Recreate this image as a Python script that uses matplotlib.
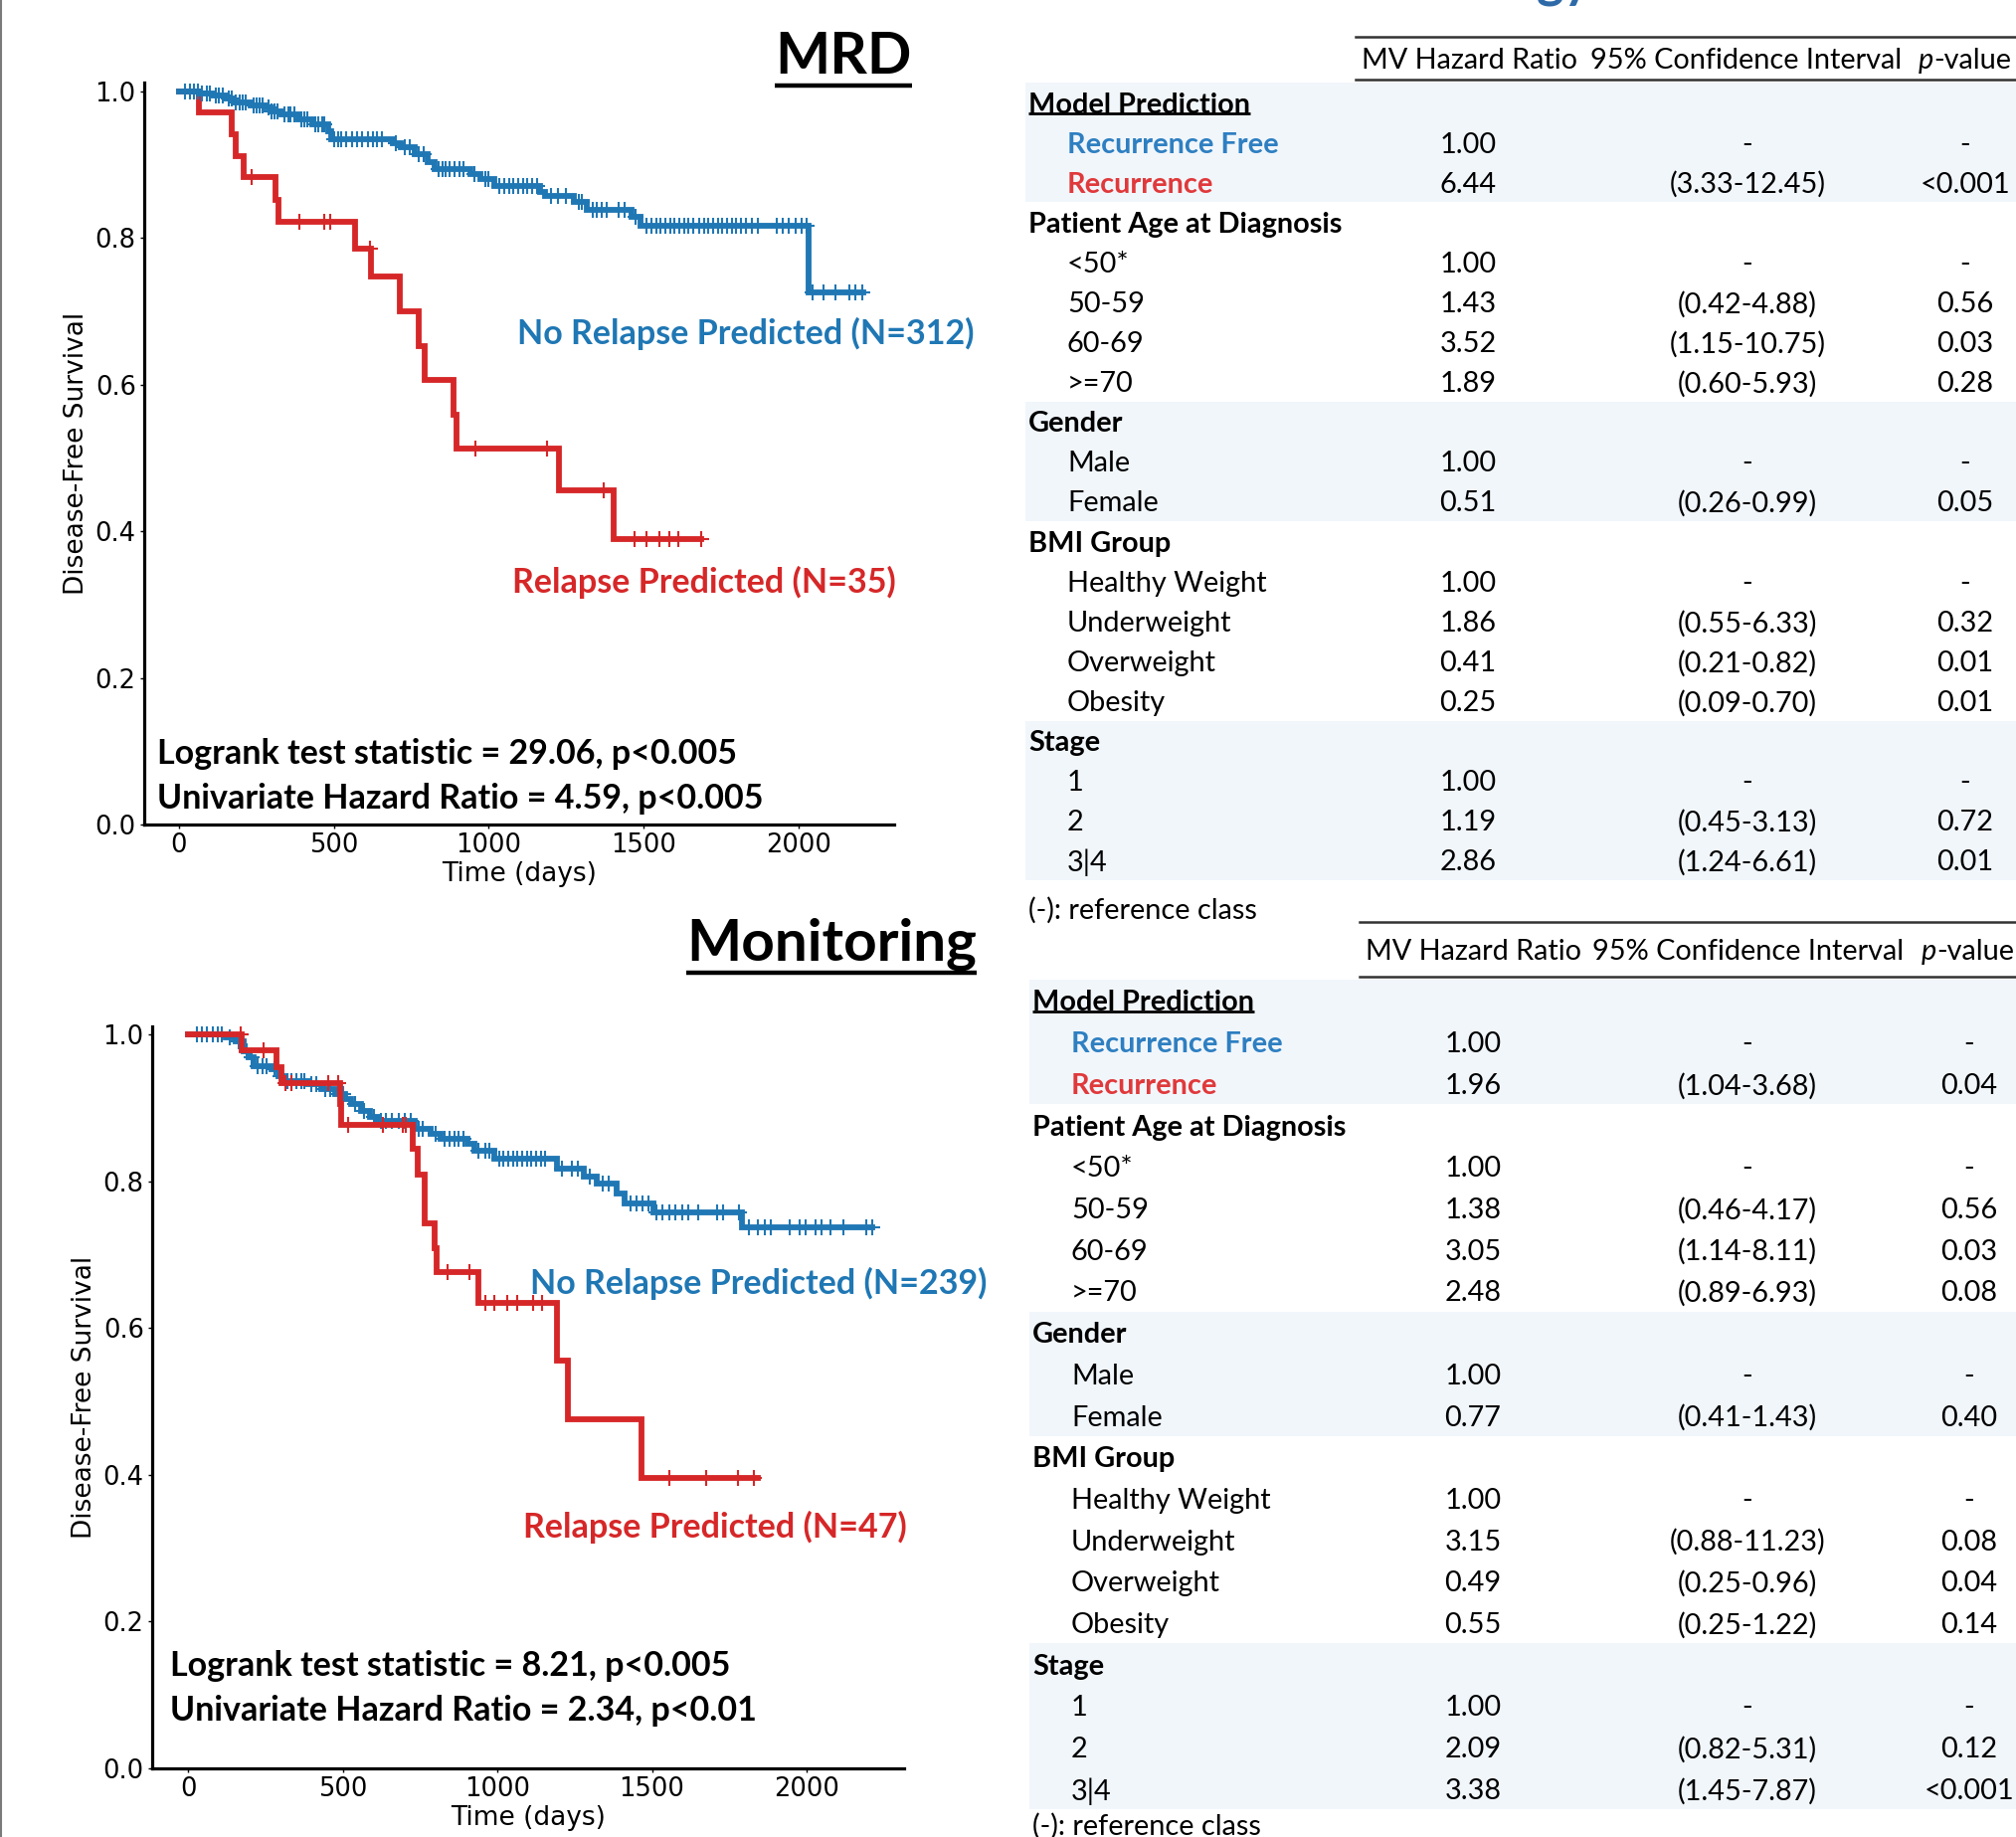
import numpy as np
import matplotlib
matplotlib.use("Agg")
import matplotlib.pyplot as plt

W, H = 2027, 1847

# MRD cohort: Kaplan-Meier steps (day, survival after the event) and censored days
mrd_free_t = [0, 65, 110, 150, 177, 230, 279, 295, 330, 385, 430, 482, 491, 690, 716,
              760, 803, 825, 940, 973, 1018, 1166, 1182, 1275, 1316, 1461, 1490, 2033, 2208]
mrd_free_s = [1.0, 0.997, 0.994, 0.990, 0.985, 0.981, 0.978, 0.973, 0.968, 0.962, 0.955,
              0.946, 0.935, 0.929, 0.924, 0.914, 0.904, 0.894, 0.887, 0.881, 0.871, 0.863,
              0.858, 0.849, 0.839, 0.829, 0.817, 0.726, 0.726]
mrd_free_cens = [20, 35, 48, 60, 75, 90, 100, 118, 130, 142, 160, 170, 185, 196, 205, 215,
                 240, 252, 262, 270, 288, 300, 310, 318, 340, 352, 360, 372, 395, 405, 415,
                 440, 450, 462, 470, 500, 515, 525, 540, 560, 575, 590, 610, 625, 640, 655,
                 700, 730, 745, 775, 790, 840, 850, 862, 875, 890, 905, 918, 955, 990, 1000,
                 1035, 1050, 1065, 1080, 1095, 1110, 1125, 1140, 1155, 1200, 1225, 1250, 1290,
                 1300, 1335, 1350, 1365, 1380, 1420, 1440, 1475, 1510, 1525, 1540, 1555, 1570,
                 1585, 1600, 1615, 1630, 1645, 1660, 1680, 1695, 1710, 1725, 1740, 1755, 1770,
                 1785, 1800, 1815, 1830, 1850, 1870, 1930, 1950, 1970, 1990, 2010, 2025, 2045,
                 2080, 2120, 2165, 2185, 2205]
mrd_rel_t = [0, 66, 170, 183, 209, 312, 321, 568, 620, 713, 774, 793, 886, 896, 1227, 1403, 1686]
mrd_rel_s = [1.0, 0.971, 0.942, 0.912, 0.883, 0.852, 0.822, 0.786, 0.748, 0.700, 0.652,
             0.607, 0.559, 0.513, 0.456, 0.390, 0.390]
mrd_rel_cens = [235, 388, 469, 488, 616, 957, 1188, 1371, 1471, 1509, 1551, 1583, 1612, 1686]

# Monitoring cohort
mon_free_t = [0, 122, 154, 180, 196, 212, 270, 292, 308, 389, 431, 475, 508, 527, 559, 588,
              614, 733, 784, 817, 903, 926, 990, 1193, 1280, 1321, 1386, 1411, 1505, 1791, 2212]
mon_free_s = [1.0, 0.996, 0.991, 0.977, 0.969, 0.957, 0.953, 0.943, 0.936, 0.932, 0.925,
              0.919, 0.912, 0.905, 0.896, 0.887, 0.882, 0.871, 0.864, 0.858, 0.851, 0.842,
              0.831, 0.817, 0.806, 0.797, 0.783, 0.770, 0.757, 0.737, 0.737]
mon_free_cens = [30, 45, 60, 80, 95, 110, 135, 165, 188, 205, 225, 240, 255, 280, 300, 320,
                 335, 350, 365, 375, 400, 415, 445, 460, 490, 500, 540, 570, 600, 625, 640,
                 660, 680, 700, 720, 745, 760, 800, 830, 845, 860, 875, 890, 940, 960, 975,
                 1005, 1020, 1035, 1050, 1065, 1080, 1095, 1110, 1125, 1140, 1155, 1210, 1240,
                 1260, 1300, 1340, 1360, 1430, 1450, 1470, 1490, 1514, 1534, 1556, 1576, 1598,
                 1617, 1649, 1710, 1730, 1781, 1813, 1842, 1865, 1884, 1945, 1977, 1997, 2029,
                 2048, 2077, 2119, 2193, 2212]
mon_rel_t = [0, 174, 286, 303, 492, 496, 726, 742, 766, 797, 803, 939, 1193, 1228, 1466, 1842]
mon_rel_s = [1.0, 0.978, 0.955, 0.934, 0.905, 0.877, 0.844, 0.809, 0.743, 0.709, 0.676,
             0.634, 0.556, 0.476, 0.396, 0.396]
mon_rel_cens = [170, 244, 315, 334, 453, 485, 518, 630, 694, 704, 838, 909, 961, 990, 1032,
                1064, 1115, 1145, 1556, 1675, 1778, 1829]

# Multivariate Cox tables
row_labels = ["Model Prediction", "Recurrence Free", "Recurrence", "Patient Age at Diagnosis",
              "<50*", "50-59", "60-69", ">=70", "Gender", "Male", "Female", "BMI Group",
              "Healthy Weight", "Underweight", "Overweight", "Obesity", "Stage", "1", "2", "3|4"]
group_rows = [0, 3, 8, 11, 16]
shaded_rows = [(0, 2), (8, 10), (16, 19)]

mrd_hr = ["", "1.00", "6.44", "", "1.00", "1.43", "3.52", "1.89", "", "1.00", "0.51", "",
          "1.00", "1.86", "0.41", "0.25", "", "1.00", "1.19", "2.86"]
mrd_ci = ["", "-", "(3.33-12.45)", "", "-", "(0.42-4.88)", "(1.15-10.75)", "(0.60-5.93)", "",
          "-", "(0.26-0.99)", "", "-", "(0.55-6.33)", "(0.21-0.82)", "(0.09-0.70)", "", "-",
          "(0.45-3.13)", "(1.24-6.61)"]
mrd_p = ["", "-", "<0.001", "", "-", "0.56", "0.03", "0.28", "", "-", "0.05", "", "-", "0.32",
         "0.01", "0.01", "", "-", "0.72", "0.01"]

mon_hr = ["", "1.00", "1.96", "", "1.00", "1.38", "3.05", "2.48", "", "1.00", "0.77", "",
          "1.00", "3.15", "0.49", "0.55", "", "1.00", "2.09", "3.38"]
mon_ci = ["", "-", "(1.04-3.68)", "", "-", "(0.46-4.17)", "(1.14-8.11)", "(0.89-6.93)", "",
          "-", "(0.41-1.43)", "", "-", "(0.88-11.23)", "(0.25-0.96)", "(0.25-1.22)", "", "-",
          "(0.82-5.31)", "(1.45-7.87)"]
mon_p = ["", "-", "0.04", "", "-", "0.56", "0.03", "0.08", "", "-", "0.40", "", "-", "0.08",
         "0.04", "0.14", "", "-", "0.12", "<0.001"]

BLUE = "#1f77b4"
RED = "#d62728"
TBL_BLUE = "#2e7fc1"
TBL_RED = "#e0393b"
BAND = "#f1f6fb"
TXT = "Lato"

fig = plt.figure(figsize=(W / 100, H / 100), dpi=100)

# full-figure overlay in pixel units for titles, tables and frame
ov = fig.add_axes([0, 0, 1, 1], zorder=0)
ov.set_xlim(0, W)
ov.set_ylim(H, 0)
ov.axis("off")
ov.plot([1, 1], [0, H], color="#7a7a7a", lw=1.5)


def km_panel(rect, xlim, ylim, curves, notes):
    ax = fig.add_axes(rect, zorder=2)
    ax.patch.set_alpha(0)
    for t, s, cens, col, z in curves:
        ax.step(t, s, where="post", color=col, lw=4.2, zorder=z, solid_joinstyle="miter")
        idx = np.searchsorted(t, cens, side="right") - 1
        ax.plot(cens, np.asarray(s)[idx], ls="none", marker="+", ms=11.5, mew=1.5,
                color=col, zorder=z)
    ax.set_xlim(*xlim)
    ax.set_ylim(*ylim)
    ax.set_xticks([0, 500, 1000, 1500, 2000])
    ax.set_yticks([0.0, 0.2, 0.4, 0.6, 0.8, 1.0])
    ax.set_yticklabels(["0.0", "0.2", "0.4", "0.6", "0.8", "1.0"])
    for side in ["top", "right"]:
        ax.spines[side].set_visible(False)
    for side in ["left", "bottom"]:
        ax.spines[side].set_linewidth(2.3)
    ax.tick_params(labelsize=18.5, length=3, width=1, pad=3)
    ax.set_xlabel("Time (days)", fontsize=19, labelpad=2)
    ax.set_ylabel("Disease-Free Survival", fontsize=19, labelpad=4)
    for x, y, txt, col in notes:
        ax.text(x, y, txt, color=col, fontsize=24.5, fontweight="bold", family=TXT,
                va="center_baseline", ha="left", zorder=5)
    return ax


km_panel([145 / W, 1 - 829 / H, 754 / W, 746 / H], (-112, 2309), (0, 1.012),
         [(mrd_rel_t, mrd_rel_s, mrd_rel_cens, RED, 3),
          (mrd_free_t, mrd_free_s, mrd_free_cens, BLUE, 4)],
         [(1092, 0.674, "No Relapse Predicted (N=312)", BLUE),
          (1076, 0.334, "Relapse Predicted (N=35)", RED),
          (-71, 0.100, "Logrank test statistic = 29.06, p<0.005", "black"),
          (-71, 0.039, "Univariate Hazard Ratio = 4.59, p<0.005", "black")])

km_panel([153 / W, 1 - 1778 / H, 756 / W, 746 / H], (-116, 2315), (0, 1.011),
         [(mon_free_t, mon_free_s, mon_free_cens, BLUE, 3),
          (mon_rel_t, mon_rel_s, mon_rel_cens, RED, 4)],
         [(1106, 0.665, "No Relapse Predicted (N=239)", BLUE),
          (1083, 0.333, "Relapse Predicted (N=47)", RED),
          (-58, 0.144, "Logrank test statistic = 8.21, p<0.005", "black"),
          (-58, 0.083, "Univariate Hazard Ratio = 2.34, p<0.01", "black")])

underlined = []

# panel titles
underlined.append((ov.text(848, 74, "MRD", fontsize=42, fontweight="bold", family=TXT,
                           ha="center", va="baseline"), 10, 3.2))
underlined.append((ov.text(836, 965, "Monitoring", fontsize=42, fontweight="bold",
                           family=TXT, ha="center", va="baseline"), 10, 3.2))

# clipped heading above the tables
ov.text(1545, -3, "gy", fontsize=38, fontweight="bold", family=TXT, color="#2f6aa8",
        ha="left", va="baseline")


def draw_table(top, y0, dy, y_note, xcat, xitem, xhr, xci, xp, hdr_x, hr, ci, pv):
    fs = 20.8
    ov.plot([hdr_x[0] - 6, W], [top, top], color="#333333", lw=1.8)
    ov.plot([hdr_x[0] - 6, W], [y0 - 0.57 * dy, y0 - 0.57 * dy], color="#333333", lw=1.8)
    hy = (top + y0 - 0.57 * dy) / 2
    ov.text(hdr_x[0], hy, "MV Hazard Ratio", fontsize=fs, family=TXT, va="center_baseline")
    ov.text(hdr_x[1], hy, "95% Confidence Interval", fontsize=fs, family=TXT,
            va="center_baseline")
    ptxt = ov.text(hdr_x[2], hy, "p", fontsize=fs, family=TXT, style="italic",
                   va="center_baseline")
    ov.annotate("-value", xy=(1, 0), xycoords=ptxt, fontsize=fs, family=TXT,
                va="bottom", ha="left")
    for a, b in shaded_rows:
        ov.fill_between([xcat - 3, W], y0 + (a - 0.5) * dy, y0 + (b + 0.5) * dy,
                        color=BAND, lw=0, zorder=0)
    for i, lab in enumerate(row_labels):
        y = y0 + i * dy
        if i in group_rows:
            t = ov.text(xcat, y, lab, fontsize=fs, fontweight="bold", family=TXT,
                        va="center_baseline")
            if i == 0:
                underlined.append((t, 3, 2.0))
            continue
        col = {1: TBL_BLUE, 2: TBL_RED}.get(i, "black")
        wt = "bold" if i in (1, 2) else "normal"
        ov.text(xitem, y, lab, fontsize=fs, family=TXT, color=col, fontweight=wt,
                va="center_baseline")
        ov.text(xhr, y, hr[i], fontsize=fs, family=TXT, ha="center", va="center_baseline")
        ov.text(xci, y, ci[i], fontsize=fs, family=TXT, ha="center", va="center_baseline")
        ov.text(xp, y, pv[i], fontsize=fs, family=TXT, ha="center", va="center_baseline")
    ov.text(xcat, y_note, "(-): reference class", fontsize=fs, family=TXT,
            va="center_baseline")


draw_table(37, 103, 40.1, 913, 1034, 1073, 1476, 1757, 1976, (1369, 1599, 1929),
           mrd_hr, mrd_ci, mrd_p)
draw_table(927, 1006, 41.7, 1834, 1038, 1077, 1481, 1757, 1980, (1373, 1601, 1932),
           mon_hr, mon_ci, mon_p)

# underline titles using the rendered text extents
fig.canvas.draw()
inv = ov.transData.inverted()
for t, gap, lw in underlined:
    bb = t.get_window_extent()
    (x0, yb), (x1, _) = inv.transform([[bb.x0, bb.y0], [bb.x1, bb.y1]])
    ov.plot([x0, x1], [yb + gap - 8, yb + gap - 8], color="black", lw=lw,
            solid_capstyle="butt")

fig.savefig("out.png", dpi=100)
